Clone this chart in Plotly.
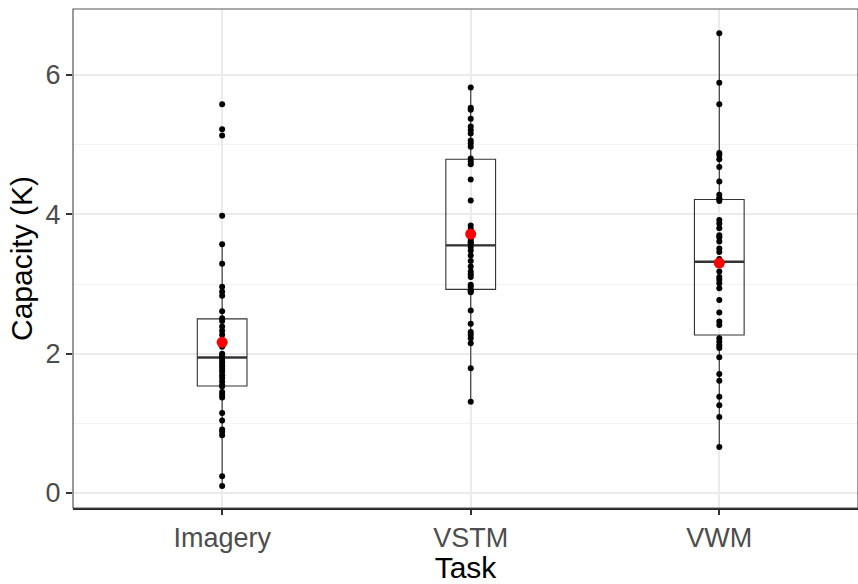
import numpy as np
import plotly.graph_objects as go

# Working-memory capacity estimates (K) per participant, by task
tasks = ["Imagery", "VSTM", "VWM"]

imagery_k = [0.10, 0.24, 0.83, 0.88, 0.91, 1.04, 1.15, 1.37, 1.41, 1.45,
             1.53, 1.55, 1.60, 1.65, 1.69, 1.74, 1.78, 1.82, 1.85, 1.89,
             1.93, 1.96, 1.98, 2.00, 2.10, 2.16, 2.20, 2.27, 2.33, 2.39,
             2.47, 2.51, 2.61, 2.83, 2.89, 2.96, 3.29, 3.57, 3.98, 5.13,
             5.22, 5.58]

vstm_k = [1.31, 1.79, 2.15, 2.22, 2.27, 2.31, 2.43, 2.62, 2.88, 2.90,
          2.91, 2.96, 2.99, 3.10, 3.14, 3.18, 3.25, 3.33, 3.41, 3.48,
          3.53, 3.58, 3.60, 3.62, 3.66, 3.79, 3.84, 4.20, 4.50, 4.72,
          4.76, 4.80, 4.97, 5.02, 5.06, 5.16, 5.21, 5.26, 5.37, 5.50,
          5.53, 5.82]

vwm_k = [0.66, 1.09, 1.26, 1.38, 1.61, 1.71, 1.95, 2.08, 2.12, 2.17,
         2.22, 2.41, 2.46, 2.59, 2.77, 2.94, 3.01, 3.06, 3.10, 3.18,
         3.28, 3.36, 3.46, 3.51, 3.61, 3.67, 3.70, 3.80, 3.87, 3.92,
         4.19, 4.22, 4.23, 4.28, 4.47, 4.68, 4.79, 4.85, 4.88, 5.58,
         5.89, 6.60]

y_ticks = [0, 2, 4, 6]

groups = [imagery_k, vstm_k, vwm_k]
BOX_W = 0.2
EDGE = "#333333"


def box_stats(values):
    v = np.asarray(values, dtype=float)
    q1, med, q3 = np.percentile(v, [25, 50, 75])
    iqr = q3 - q1
    lo = v[v >= q1 - 1.5 * iqr].min()
    hi = v[v <= q3 + 1.5 * iqr].max()
    return q1, med, q3, lo, hi


fig = go.Figure()

means = []
for i, vals in enumerate(groups):
    q1, med, q3, lo, hi = box_stats(vals)
    means.append(float(np.mean(vals)))
    fig.add_trace(go.Box(
        x=[i], q1=[q1], median=[med], q3=[q3],
        lowerfence=[lo], upperfence=[hi],
        width=BOX_W, whiskerwidth=0, boxpoints=False,
        fillcolor="rgba(0,0,0,0)",
        line=dict(color=EDGE, width=1.1),
        hoverinfo="skip", showlegend=False,
    ))
    # heavier median bar, as in a ggplot boxplot
    fig.add_trace(go.Scatter(
        x=[i - BOX_W / 2, i + BOX_W / 2], y=[med, med],
        mode="lines", line=dict(color=EDGE, width=2.4),
        hoverinfo="skip", showlegend=False,
    ))

# individual participants
for i, vals in enumerate(groups):
    fig.add_trace(go.Scatter(
        x=[i] * len(vals), y=vals, mode="markers",
        marker=dict(color="black", size=6),
        showlegend=False,
    ))

# task means
fig.add_trace(go.Scatter(
    x=list(range(len(tasks))), y=means, mode="markers",
    marker=dict(color="#FF0000", size=11),
    showlegend=False,
))

font_family = "Liberation Sans, Arial, sans-serif"

fig.update_layout(
    width=858, height=584,
    margin=dict(l=73, r=0, t=9, b=76),
    paper_bgcolor="white", plot_bgcolor="white",
    font=dict(family=font_family),
    shapes=[dict(type="rect", xref="paper", yref="paper",
                 x0=0, x1=1, y0=0, y1=1,
                 line=dict(color="#555555", width=1.2), layer="above")],
)

fig.update_xaxes(
    range=[-0.6, 2.558],
    tickmode="array", tickvals=list(range(len(tasks))), ticktext=tasks,
    tickfont=dict(size=27, color="#4D4D4D"),
    ticks="outside", ticklen=5, tickwidth=1.5, tickcolor=EDGE,
    showgrid=True, gridcolor="#EBEBEB", gridwidth=1.8,
    zeroline=False,
    showline=True, linecolor="#222222", linewidth=2,
    title=dict(text="Task", font=dict(size=30, color="black"), standoff=5),
)

fig.update_yaxes(
    range=[-0.215, 6.947],
    tickmode="array", tickvals=y_ticks,
    tickfont=dict(size=27, color="#4D4D4D"),
    ticks="outside", ticklen=6, tickwidth=1.5, tickcolor=EDGE,
    showgrid=True, gridcolor="#EBEBEB", gridwidth=1.8,
    minor=dict(dtick=1, showgrid=True, gridcolor="#F3F3F3", gridwidth=1),
    zeroline=False,
    showline=False,
    title=dict(text="Capacity (K)", font=dict(size=30, color="black"), standoff=4),
)

fig.write_html("out.html")
